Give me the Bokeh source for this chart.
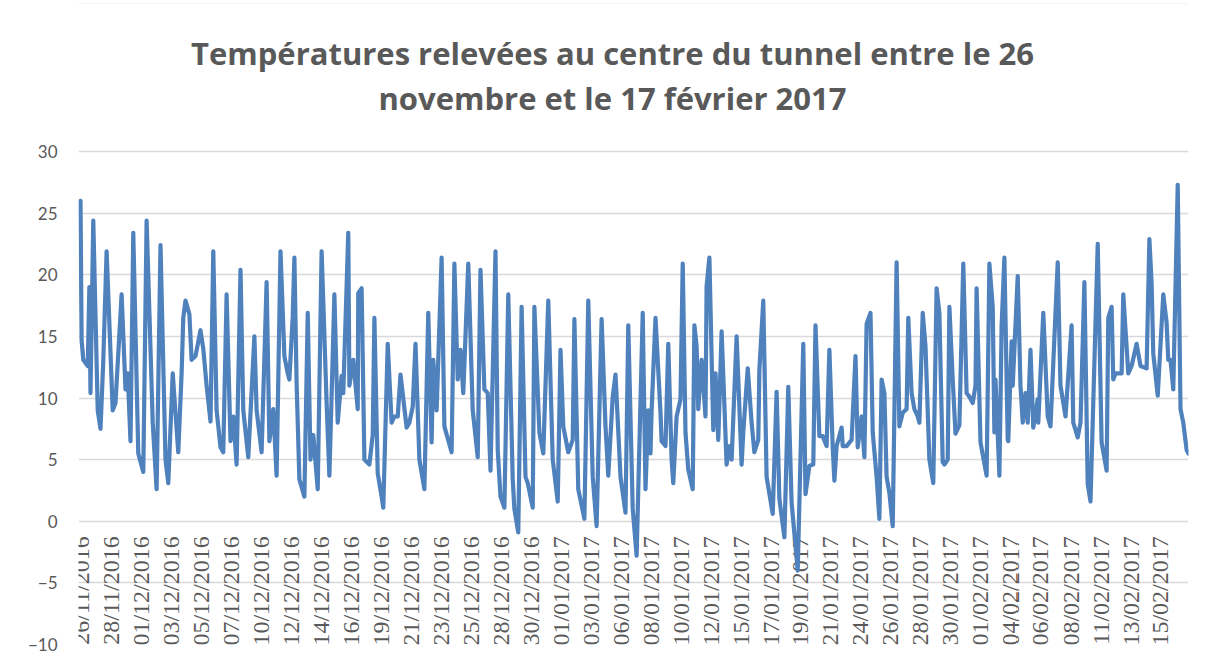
from bokeh.plotting import figure
from bokeh.models import ColumnDataSource, FixedTicker, LabelSet, Range1d, BoxAnnotation
from bokeh.core.properties import value
from bokeh.embed import file_html
from bokeh.resources import INLINE

# ---- data (hour index since first reading, temperature in degC) ----
heures = [0, 2, 5, 13, 16, 18, 23, 31, 36, 41, 47, 58, 63, 74, 81, 85, 90, 95, 104, 113,
          119, 130, 137, 144, 153, 158, 166, 176, 182, 185, 189, 196, 200, 207, 216, 221, 227, 234, 239, 245,
          252, 257, 263, 270, 275, 281, 288, 293, 302, 313, 317, 326, 335, 340, 347, 353, 360, 367, 373, 376,
          382, 385, 389, 394, 403, 409, 414, 419, 427, 434, 443, 448, 457, 463, 470, 473, 482, 484, 491, 499,
          500, 506, 511, 520, 526, 529, 535, 542, 545, 553, 560, 565, 571, 576, 587, 592, 598, 603, 610, 619,
          626, 632, 635, 641, 650, 655, 668, 673, 679, 684, 689, 698, 706, 715, 720, 727, 733, 738, 747, 751,
          756, 763, 770, 778, 781, 788, 794, 801, 805, 814, 817, 826, 833, 842, 850, 859, 864, 869, 878, 886,
          889, 896, 907, 914, 922, 929, 938, 945, 950, 958, 963, 972, 981, 986, 994, 1001, 1012, 1017, 1022, 1026,
          1028, 1035, 1044, 1046, 1053, 1058, 1064, 1067, 1073, 1080, 1084, 1089, 1094, 1102, 1105, 1109, 1112, 1118, 1125, 1127,
          1132, 1139, 1143, 1148, 1154, 1163, 1168, 1172, 1181, 1190, 1193, 1201, 1208, 1213, 1220, 1222, 1229, 1235, 1246, 1253,
          1258, 1267, 1274, 1280, 1291, 1301, 1305, 1312, 1319, 1323, 1330, 1336, 1343, 1348, 1354, 1357, 1361, 1370, 1372, 1379,
          1388, 1395, 1399, 1406, 1411, 1415, 1422, 1426, 1433, 1438, 1442, 1447, 1451, 1456, 1462, 1469, 1474, 1480, 1487, 1490,
          1496, 1501, 1507, 1510, 1516, 1521, 1528, 1535, 1541, 1546, 1552, 1555, 1561, 1564, 1570, 1575, 1582, 1589, 1595, 1600,
          1606, 1611, 1613, 1620, 1631, 1636, 1642, 1645, 1647, 1654, 1658, 1663, 1669, 1670, 1676, 1678, 1687, 1692, 1696, 1701,
          1705, 1710, 1715, 1723, 1724, 1733, 1741, 1746, 1751, 1759, 1764, 1773, 1784, 1787, 1795, 1800, 1807, 1813, 1818, 1831,
          1838, 1847, 1850, 1856, 1859, 1863, 1874, 1877, 1886, 1892, 1901, 1908, 1919, 1924, 1928, 1931, 1939, 1949, 1955, 1958,
          1962, 1967, 1975, 1980, 1985, 1991, 1994]

temperatures = [26.0, 14.7, 13.1, 12.6, 19.0, 10.4, 24.4, 9.0, 7.5, 13.0, 21.9, 9.0, 9.6, 18.4, 10.7, 12.0, 6.5, 23.4, 5.5, 4.0,
                24.4, 8.0, 2.6, 22.4, 5.0, 3.1, 12.0, 5.6, 12.0, 16.5, 17.9, 16.8, 13.1, 13.4, 15.5, 14.0, 11.0, 8.1, 21.9, 9.0,
                6.0, 5.6, 18.4, 6.5, 8.5, 4.6, 20.4, 9.0, 5.2, 15.0, 9.0, 5.6, 19.4, 6.5, 9.1, 3.7, 21.9, 13.4, 12.0, 11.5,
                16.6, 21.4, 11.2, 3.4, 2.0, 16.9, 5.0, 7.0, 2.6, 21.9, 9.6, 3.7, 18.4, 8.0, 11.8, 10.4, 23.4, 11.0, 13.1, 9.1,
                18.5, 18.9, 5.0, 4.6, 7.0, 16.5, 3.9, 2.0, 1.1, 14.4, 8.0, 8.5, 8.5, 11.9, 7.6, 8.0, 9.3, 14.4, 5.0, 2.6,
                16.9, 6.4, 13.1, 9.0, 21.4, 7.7, 5.6, 20.9, 11.5, 13.9, 10.4, 20.9, 9.0, 5.2, 20.4, 10.7, 10.4, 4.1, 21.9, 5.8,
                2.0, 1.1, 18.4, 3.4, 1.0, -0.9, 17.4, 3.6, 3.1, 1.1, 17.4, 7.2, 5.5, 17.9, 5.0, 1.6, 13.9, 7.7, 5.6, 6.6,
                16.4, 2.6, 0.2, 17.9, 3.6, -0.4, 16.4, 7.7, 3.7, 10.1, 11.9, 3.6, 0.7, 15.9, 1.0, -2.8, 16.9, 2.6, 9.0, 5.5,
                9.0, 16.5, 8.8, 6.5, 6.1, 14.4, 5.0, 3.1, 8.5, 9.9, 20.9, 7.2, 4.2, 2.6, 15.9, 14.2, 9.1, 13.1, 8.5, 19.1,
                21.4, 7.4, 12.0, 6.6, 15.4, 4.6, 6.1, 5.0, 15.0, 4.6, 7.2, 12.4, 8.0, 5.6, 6.6, 12.3, 17.9, 3.6, 0.6, 10.5,
                1.8, -1.3, 10.9, 1.5, -4.0, 14.4, 2.2, 4.5, 4.6, 15.9, 6.9, 6.9, 6.1, 13.9, 6.0, 3.3, 6.1, 7.6, 6.1, 6.1,
                6.6, 13.4, 6.0, 8.5, 5.2, 16.0, 16.9, 7.2, 3.6, 0.2, 11.5, 10.4, 3.6, 2.3, -0.4, 21.0, 7.7, 8.8, 9.1, 16.5,
                10.4, 9.1, 8.5, 8.0, 16.9, 14.2, 5.0, 3.1, 18.9, 16.9, 4.8, 4.6, 5.0, 17.4, 11.5, 7.1, 7.8, 20.9, 10.4, 10.1,
                9.6, 11.0, 18.9, 6.4, 3.7, 20.9, 17.4, 7.2, 11.5, 3.7, 15.8, 21.4, 6.6, 6.5, 14.6, 11.0, 19.9, 11.0, 8.0, 10.4,
                8.0, 13.9, 7.6, 9.9, 8.0, 16.9, 8.5, 7.7, 12.8, 21.0, 11.0, 8.5, 15.9, 8.0, 6.8, 8.0, 19.4, 3.0, 1.6, 22.5,
                6.4, 4.1, 16.5, 17.4, 11.5, 12.0, 12.0, 18.4, 12.0, 12.6, 14.4, 12.6, 12.4, 22.9, 19.3, 13.6, 10.2, 18.4, 16.1, 13.1,
                13.1, 10.7, 27.3, 9.1, 8.0, 5.8, 5.5]

dates = ["26/11/2016", "28/11/2016", "01/12/2016", "03/12/2016", "05/12/2016", "07/12/2016",
         "10/12/2016", "12/12/2016", "14/12/2016", "16/12/2016", "19/12/2016", "21/12/2016",
         "23/12/2016", "25/12/2016", "28/12/2016", "30/12/2016", "01/01/2017", "03/01/2017",
         "06/01/2017", "08/01/2017", "10/01/2017", "12/01/2017", "15/01/2017", "17/01/2017",
         "19/01/2017", "21/01/2017", "24/01/2017", "26/01/2017", "28/01/2017", "30/01/2017",
         "01/02/2017", "04/02/2017", "06/02/2017", "08/02/2017", "11/02/2017", "13/02/2017",
         "15/02/2017"]
heures_par_etiquette = 54
y_ticks = [-10, -5, 0, 5, 10, 15, 20, 25, 30]
titre_1 = "Températures relevées au centre du tunnel entre le 26"
titre_2 = "novembre et le 17 février 2017"

GRAY = "#595959"
BLUE = "#4F81BD"

# ---- layout (pixels) ----
W, H = 1212, 669
LEFT, RIGHT, BOTTOM = 78, 24, 25          # frame borders
TOP_30 = 151                                # pixel row of the 30 gridline
X0, X1 = -3.6, 1994.4
Y_MIN, Y_MAX = -10, 30
frame_h = H - BOTTOM                        # frame spans from canvas top to bottom border
px_per_deg = (frame_h - TOP_30) / (Y_MAX - Y_MIN)
y_top = Y_MAX + TOP_30 / px_per_deg         # extra headroom used for the title
px_per_hour = (W - LEFT - RIGHT) / (X1 - X0)


def y_at(row):
    return Y_MAX + (TOP_30 - row) / px_per_deg


def x_at(col):
    return X0 + (col - LEFT) / px_per_hour


p = figure(width=W, height=H, output_backend="svg", toolbar_location=None,
           x_range=Range1d(X0, X1), y_range=Range1d(Y_MIN, y_top),
           min_border_left=LEFT, min_border_right=RIGHT, min_border_bottom=BOTTOM, min_border_top=0)
p.outline_line_color = None
p.background_fill_color = "white"
p.border_fill_color = "white"

# light chart-area border around the whole canvas
try:
    border = BoxAnnotation(left=3, right=W - 4, top=3, bottom=H - 3,
                           left_units="canvas", right_units="canvas",
                           top_units="canvas", bottom_units="canvas",
                           fill_alpha=0, line_color="#d9d9d9", line_width=1, level="underlay")
    p.add_layout(border)
except Exception:
    pass

p.xaxis.visible = False
p.xgrid.visible = False
p.ygrid.ticker = FixedTicker(ticks=y_ticks)
p.ygrid.grid_line_color = "#d9d9d9"
p.ygrid.grid_line_width = 1.3

p.yaxis.ticker = FixedTicker(ticks=y_ticks)
p.yaxis.axis_line_color = None
p.yaxis.major_tick_line_color = None
p.yaxis.minor_tick_line_color = None
p.yaxis.major_tick_out = 0
p.yaxis.major_label_text_font = "Lato"
p.yaxis.major_label_text_font_size = "17px"
p.yaxis.major_label_text_color = GRAY
p.yaxis.major_label_standoff = 21

# title: two centred lines
p.text(x=[x_at(612), x_at(612)], y=[y_at(52), y_at(97)], text=[titre_1, titre_2],
       text_align="center", text_baseline="middle", text_font=value("Open Sans"),
       text_font_size="31px", text_font_style="bold", text_color=GRAY)

# category-style date labels hanging from the 0 line
lab_src = ColumnDataSource(dict(x=[i * heures_par_etiquette for i in range(len(dates))],
                                y=[0] * len(dates), text=dates))
labels = LabelSet(x="x", y="y", text="text", source=lab_src, angle=1.5707963,
                  text_align="right", text_baseline="middle", y_offset=-15,
                  text_font="Lato", text_font_size="24px", text_color=GRAY, level="underlay")
p.add_layout(labels)

src = ColumnDataSource(dict(h=heures, t=temperatures))
p.line("h", "t", source=src, line_color=BLUE, line_width=4.2, line_join="round", line_cap="round")

open("out.html", "w").write(file_html(p, INLINE))
